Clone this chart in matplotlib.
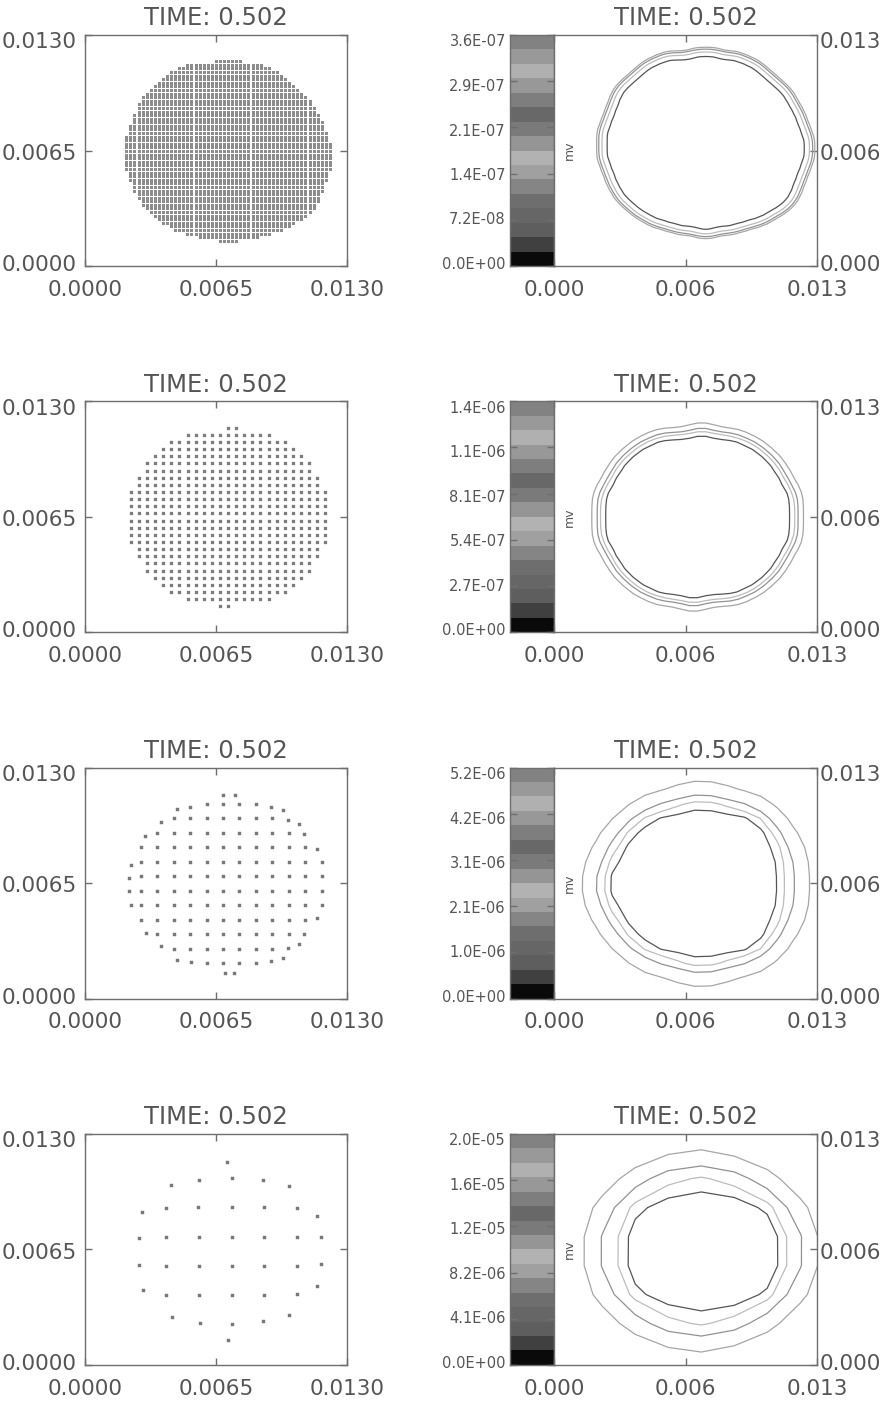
import numpy as np
import matplotlib
matplotlib.use("Agg")
import matplotlib.pyplot as plt
from matplotlib.colors import ListedColormap, BoundaryNorm
from matplotlib.transforms import ScaledTranslation

# ---------------------------------------------------------------- text
TITLE = "TIME: 0.502"
CBAR_LABEL = "mv"
AXIS_TICKS = [0.0, 0.0065, 0.013]
PARTICLE_TICK_LABELS = ["0.0000", "0.0065", "0.0130"]
FIELD_TICK_LABELS = ["0.000", "0.006", "0.013"]

# ---------------------------------------------------------------- data
# particle spacing of the four resolutions and the peak of mv
SPACING = [0.000202, 0.000402, 0.000815, 0.00163]
MV_MAX = [3.58e-7, 1.352e-6, 5.2e-6, 2.04e-5]

# lattice origins (x of column 0, y of row 0) for each resolution
ORIGIN_1 = (0.0071, 0.00142)
ORIGIN_2 = (0.0071, 0.001463)
ORIGIN_3 = (0.00685, 0.001987)
ORIGIN_4 = (0.007278, 0.007223)

# occupied columns (first, last) of every lattice row, bottom to top
SPANS_1 = [(-2, 2), (-7, 7), (-10, 10), (-13, 13), (-14, 15), (-16, 16),
           (-17, 18), (-18, 19), (-19, 20), (-20, 21), (-21, 21), (-21, 22),
           (-22, 22), (-22, 22), (-23, 23), (-23, 23), (-23, 23), (-24, 24),
           (-24, 24), (-24, 24), (-25, 25), (-25, 25), (-25, 25), (-25, 25),
           (-25, 25), (-25, 25), (-25, 25), (-25, 25), (-25, 24), (-25, 24),
           (-24, 24), (-24, 23), (-24, 23), (-23, 23), (-23, 22), (-23, 22),
           (-22, 21), (-22, 21), (-22, 20), (-21, 20), (-21, 19), (-20, 18),
           (-19, 17), (-18, 16), (-17, 15), (-16, 14), (-15, 13), (-14, 12),
           (-12, 10), (-10, 8), (-3, 3)]

SPANS_2 = [(-1, 0), (-5, 5), (-7, 7), (-8, 8), (-9, 9), (-10, 10), (-10, 10),
           (-11, 11), (-11, 11), (-12, 12), (-12, 12), (-12, 12), (-12, 12),
           (-12, 12), (-12, 12), (-12, 12), (-12, 12), (-11, 11), (-11, 11),
           (-10, 10), (-10, 10), (-9, 9), (-8, 8), (-7, 7), (-5, 5), (0, 1)]

SPANS_3 = [(-1, 2), (-3, 3), (-4, 4), (-5, 5), (-5, 6), (-5, 6), (-5, 6),
           (-5, 6), (-5, 5), (-4, 4), (-3, 3), (-1, 2)]
# particles of the third resolution that sit off the lattice
EDGE_3_X = [0.00685, 0.00744, 0.00455, 0.00523, 0.00921, 0.00981, 0.00376,
            0.01006, 0.01062, 0.00299, 0.01088, 0.01153, 0.00227, 0.00218,
            0.00220, 0.00227, 0.01153, 0.00303, 0.01088, 0.00377, 0.01009,
            0.01063, 0.00457, 0.00526, 0.00925, 0.00983, 0.00696, 0.00741]
EDGE_3_Y = [0.01144, 0.01144, 0.01068, 0.01081, 0.01079, 0.01064, 0.00992,
            0.01007, 0.00983, 0.00914, 0.00927, 0.00843, 0.00754, 0.00677,
            0.00604, 0.00529, 0.00454, 0.00371, 0.00366, 0.00294, 0.00283,
            0.00308, 0.00220, 0.00208, 0.00214, 0.00229, 0.00145, 0.00145]

# coarsest resolution: every particle
PART_4_X = [0.007046,
            0.004267, 0.005673, 0.007278, 0.008816, 0.010106,
            0.002845, 0.004003, 0.005623, 0.007278, 0.008882, 0.010519, 0.011528,
            0.002663, 0.004003, 0.005640, 0.007278, 0.008882, 0.010536, 0.011694,
            0.002663, 0.004003, 0.005640, 0.007278, 0.008882, 0.010536, 0.011694,
            0.002878, 0.004003, 0.005640, 0.007278, 0.008898, 0.010519, 0.011528,
            0.004300, 0.005690, 0.007294, 0.008832, 0.010106,
            0.007079]
PART_4_Y = [0.011424,
            0.010130, 0.010430, 0.010506, 0.010393, 0.010074,
            0.008611, 0.008855, 0.008874, 0.008874, 0.008874, 0.008855, 0.008405,
            0.007167, 0.007223, 0.007223, 0.007223, 0.007223, 0.007223, 0.007185,
            0.005628, 0.005572, 0.005572, 0.005572, 0.005572, 0.005572, 0.005703,
            0.004202, 0.003940, 0.003958, 0.003958, 0.003958, 0.003996, 0.004465,
            0.002702, 0.002383, 0.002326, 0.002457, 0.002795,
            0.001407]

# colour table of the mv bar, bottom band first
CBAR_GRAYS = ["#0a0a0a", "#404040", "#5e5e5e", "#666666", "#6e6e6e",
              "#858585", "#a0a0a0", "#b2b2b2", "#959595", "#7a7a7a",
              "#686868", "#7e7e7e", "#989898", "#b0b0b0", "#999999",
              "#828282"]

# contour levels of mv (fractions of the peak) for each resolution
LEVEL_FRACTIONS = [[0.22, 0.33, 0.53, 0.82],
                   [0.33, 0.55, 0.68, 0.83],
                   [0.34, 0.65, 0.80, 0.91],
                   [0.45, 0.68, 0.84, 0.935]]
LEVEL_COLORS = ["#a6a6a6", "#929292", "#bcbcbc", "#555555"]
# kernel width (in particle spacings) and grid offset of each mv map
SMOOTHING = [1.5, 1.2, 1.2, 1.0]
FIELD_SHIFT = [(0.0004, 0.00045), (0.0, 0.0), (0.0001, 0.0), (0.0, 0.0)]

# ---------------------------------------------------------------- helpers
def lattice(origin, s, spans):
    xs, ys = [], []
    for j, (k0, k1) in enumerate(spans):
        k = np.arange(k0, k1 + 1)
        xs.append(origin[0] + s * k)
        ys.append(np.full(k.size, origin[1] + s * j))
    return np.concatenate(xs), np.concatenate(ys)


def mv_field(px, py, s, peak, origin, smooth, shift):
    px = px + shift[0]
    py = py + shift[1]
    ox, oy = origin[0] + shift[0], origin[1] + shift[1]
    lo, hi = -2 * s, 0.013 + 2 * s
    gx = ox + s * np.arange(np.floor((lo - ox) / s), np.ceil((hi - ox) / s) + 1)
    gy = oy + s * np.arange(np.floor((lo - oy) / s), np.ceil((hi - oy) / s) + 1)
    sig = smooth * s
    wx = np.exp(-(gx[:, None] - px[None, :]) ** 2 / (2 * sig ** 2))
    wy = np.exp(-(gy[:, None] - py[None, :]) ** 2 / (2 * sig ** 2))
    f = wy @ wx.T * peak * s * s / (2 * np.pi * sig ** 2)
    return gx, gy, f


x1, y1 = lattice(ORIGIN_1, SPACING[0], SPANS_1)
x2, y2 = lattice(ORIGIN_2, SPACING[1], SPANS_2)
x3, y3 = lattice(ORIGIN_3, SPACING[2], SPANS_3)
x3 = np.concatenate([x3, EDGE_3_X])
y3 = np.concatenate([y3, EDGE_3_Y])
x4, y4 = np.array(PART_4_X), np.array(PART_4_Y)

PARTICLES = [(x1, y1), (x2, y2), (x3, y3), (x4, y4)]
ORIGINS = [ORIGIN_1, ORIGIN_2, ORIGIN_3, ORIGIN_4]
# marker edge (points) and colour of each resolution
MARKERS = [(2.15, "#8c8c8c"), (2.35, "#7c7c7c"),
           (2.45, "#787878"), (2.45, "#787878")]

# ---------------------------------------------------------------- figure
W, H = 885, 1401
fig = plt.figure(figsize=(W / 100, H / 100), dpi=100)
TXT = "#555555"
SPINE = "#6e6e6e"


def frac(left, top, width, height):
    return [left / W, 1 - (top + height) / H, width / W, height / H]


def style_spines(ax):
    for sp in ax.spines.values():
        sp.set_color(SPINE)
        sp.set_linewidth(1.0)


def nudge_ylabels(ax, vmax):
    # labels sit slightly toward the middle of the axis
    for lab, v in zip(ax.get_yticklabels(), ax.get_yticks()):
        down = -3.0 + 8.5 * (v / vmax)
        lab.set_transform(lab.get_transform() +
                          ScaledTranslation(0, -down / 100, fig.dpi_scale_trans))


for r in range(4):
    top = 35 + 366.3 * r
    s = SPACING[r]
    px, py = PARTICLES[r]

    # particle positions
    ax = fig.add_axes(frac(85, top, 262, 231))
    ms, mc = MARKERS[r]
    pts = ax.scatter(px, py, s=ms ** 2, marker="s", linewidths=0, color=mc)
    pts.set_snap(False)
    ax.set_xlim(0, 0.013)
    ax.set_ylim(0, 0.013)
    ax.set_xticks(AXIS_TICKS)
    ax.set_yticks(AXIS_TICKS)
    ax.set_xticklabels(PARTICLE_TICK_LABELS)
    ax.set_yticklabels(PARTICLE_TICK_LABELS)
    ax.tick_params(direction="in", length=5, width=1, color=SPINE,
                   top=True, right=True, labelsize=15.5, labelcolor=TXT,
                   pad=5.8)
    ax.tick_params(axis="x", pad=10)
    ax.set_title(TITLE, fontsize=17.5, color=TXT, pad=7)
    style_spines(ax)
    nudge_ylabels(ax, 0.013)

    # mv colour bar
    peak = MV_MAX[r]
    bounds = np.linspace(0, peak, len(CBAR_GRAYS) + 1)
    cax = fig.add_axes(frac(510, top, 44, 231))
    cmap = ListedColormap(CBAR_GRAYS)
    norm = BoundaryNorm(bounds, cmap.N)
    cax.pcolormesh([0, 1], bounds, ((bounds[:-1] + bounds[1:]) / 2)[:, None],
                   cmap=cmap, norm=norm, shading="flat")
    cax.set_xlim(0, 1)
    cax.set_ylim(0, peak)
    cticks = np.linspace(0, peak, 6)
    cax.set_yticks(cticks)
    cax.set_yticklabels(["%.1E" % v for v in cticks])
    cax.set_xticks([])
    cax.tick_params(axis="y", direction="in", length=5, width=1, color=SPINE,
                    left=True, right=True, labelsize=10.5, labelcolor=TXT,
                    pad=3)
    style_spines(cax)
    nudge_ylabels(cax, peak)

    # mv contours
    fax = fig.add_axes(frac(554, top, 263, 231))
    gx, gy, f = mv_field(px, py, s, peak, ORIGINS[r], SMOOTHING[r],
                         FIELD_SHIFT[r])
    fax.contour(gx, gy, f, levels=[v * peak for v in LEVEL_FRACTIONS[r]],
                colors=LEVEL_COLORS, linewidths=0.9)
    fax.set_xlim(0, 0.013)
    fax.set_ylim(0, 0.013)
    fax.set_xticks(AXIS_TICKS)
    fax.set_yticks(AXIS_TICKS)
    fax.set_xticklabels(FIELD_TICK_LABELS)
    fax.set_yticklabels(FIELD_TICK_LABELS)
    fax.tick_params(direction="in", length=5, width=1, color=SPINE,
                    top=True, right=True, left=False, labelleft=False,
                    labelright=True, labelsize=15.5, labelcolor=TXT, pad=2)
    fax.tick_params(axis="x", pad=10)
    fax.set_title(TITLE, fontsize=17.5, color=TXT, pad=7)
    fax.text(0.06, 0.5, CBAR_LABEL, transform=fax.transAxes, rotation=90,
             ha="center", va="center", fontsize=9, color=TXT)
    style_spines(fax)
    nudge_ylabels(fax, 0.013)

fig.savefig("out.png", dpi=100, facecolor="white")
